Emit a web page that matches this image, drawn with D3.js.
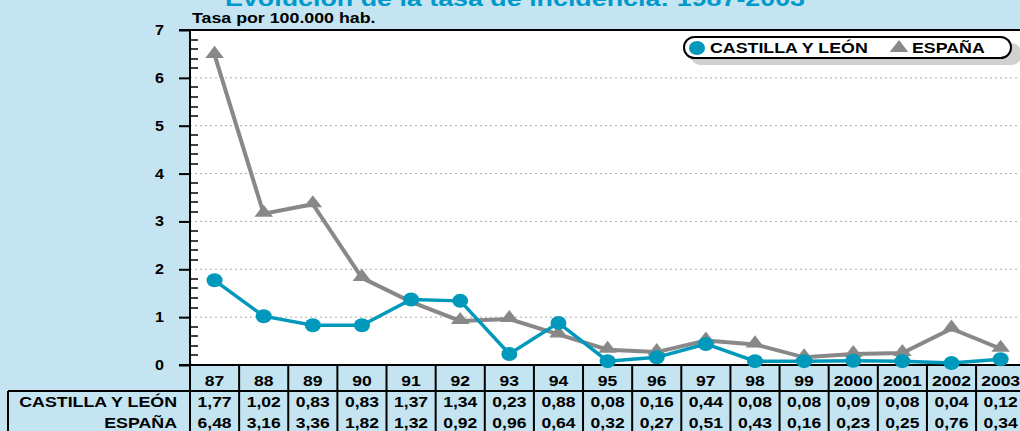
<!DOCTYPE html>
<html><head><meta charset="utf-8">
<script src="https://cdn.jsdelivr.net/npm/d3@7"></script>
<style>
html,body{margin:0;padding:0;background:#c3e4f0;overflow:hidden;}
svg{display:block;font-family:"Liberation Sans",Arial,sans-serif;font-weight:bold;}
</style></head><body>
<svg id="c" width="1020" height="431"></svg>
<script>
const years = ["87","88","89","90","91","92","93","94","95","96","97","98","99","2000","2001","2002","2003"];
const cyl = [1.77,1.02,0.83,0.83,1.37,1.34,0.23,0.88,0.08,0.16,0.44,0.08,0.08,0.09,0.08,0.04,0.12];
const esp = [6.48,3.16,3.36,1.82,1.32,0.92,0.96,0.64,0.32,0.27,0.51,0.43,0.16,0.23,0.25,0.76,0.34];
const seriesNames = ["CASTILLA Y LEÓN","ESPAÑA"];
const yTicks = [0,1,2,3,4,5,6,7];
const title = "Evolución de la tasa de incidencia: 1987-2003";
const yLabel = "Tasa por 100.000 hab.";

(function(){
const BLUE = "#0099bb", GREY = "#888888";
const svg = d3.select("#c");
const L = 190, T = 30, B = 365, colW = 49.13;
const x = d3.scaleBand().domain(years).range([L, L + colW*years.length]);
const y = d3.scaleLinear().domain([0,7]).range([B, T]);
const fmt = v => v.toFixed(2).replace(".", ",");
function stretch(sel, k){
  sel.each(function(){
    const w = this.getComputedTextLength();
    d3.select(this).attr("textLength", w*k).attr("lengthAdjust","spacingAndGlyphs");
  });
}

// title
svg.append("text").attr("x", 515).attr("y", 6).attr("text-anchor","middle")
  .attr("font-size", 22).attr("fill", "#0099cc").text(title)
  .attr("textLength", 580).attr("lengthAdjust","spacingAndGlyphs");
stretch(svg.append("text").attr("x", 192).attr("y", 23).attr("font-size", 14).attr("fill","#000").text(yLabel), 1.27);

// plot area
svg.append("rect").attr("x", L).attr("y", T).attr("width", 1020-L+10).attr("height", B-T).attr("fill","#fff");

// gridlines
svg.append("g").selectAll("line").data(yTicks.filter(d=>d>0&&d<7)).join("line")
  .attr("x1", L).attr("x2", 1020).attr("y1", d=>y(d)).attr("y2", d=>y(d))
  .attr("stroke","#aaa").attr("stroke-width",1).attr("stroke-dasharray","2,3");

// minor ticks
const minor = d3.range(0, 7.001, 0.2).filter(v => Math.abs(v - Math.round(v)) > 1e-6);
svg.append("g").selectAll("line").data(minor).join("line")
  .attr("x1", L).attr("x2", L+8).attr("y1", d=>Math.round(y(d))).attr("y2", d=>Math.round(y(d)))
  .attr("stroke","#000").attr("stroke-width",1.5);

// y axis
const yAxis = d3.axisLeft(y).tickValues(yTicks).tickSize(11).tickPadding(15).tickFormat(d3.format("d"));
const ga = svg.append("g").attr("transform", `translate(${L},0)`).call(yAxis);
ga.select(".domain").remove();
ga.selectAll(".tick line").attr("stroke","#000").attr("stroke-width",2);
ga.selectAll(".tick text").attr("font-size",14).attr("font-weight","bold").attr("fill","#000")
  .attr("font-family","Liberation Sans, Arial, sans-serif");
stretch(ga.selectAll(".tick text"), 1.15);

// frame
svg.append("line").attr("x1",L).attr("x2",L).attr("y1",T-1).attr("y2",431).attr("stroke","#000").attr("stroke-width",2);
svg.append("line").attr("x1",L-11).attr("x2",1020).attr("y1",T).attr("y2",T).attr("stroke","#000").attr("stroke-width",2);
svg.append("line").attr("x1",L-11).attr("x2",1020).attr("y1",B).attr("y2",B).attr("stroke","#000").attr("stroke-width",2);

// lines
const cx = d => x(d) + x.bandwidth()/2;
const lineGen = arr => d3.line().x((d,i)=>cx(years[i])).y(d=>y(d))(arr);
svg.append("path").attr("d", lineGen(esp)).attr("fill","none").attr("stroke",GREY).attr("stroke-width",4);
const tri = d3.symbol().type(d3.symbolTriangle).size(150);
svg.append("g").selectAll("path").data(esp).join("path")
  .attr("d", tri).attr("transform",(d,i)=>`translate(${cx(years[i])},${y(d)-1}) scale(1,0.75)`).attr("fill",GREY);
svg.append("path").attr("d", lineGen(cyl)).attr("fill","none").attr("stroke",BLUE).attr("stroke-width",3.5);
svg.append("g").selectAll("ellipse").data(cyl).join("ellipse")
  .attr("cx",(d,i)=>cx(years[i])).attr("cy",d=>y(d)).attr("rx",8).attr("ry",7).attr("fill",BLUE);

// legend
const lg = svg.append("g");
lg.append("rect").attr("x",690).attr("y",43).attr("width",332).attr("height",22).attr("rx",11).attr("fill","#d0d0d0");
lg.append("rect").attr("x",684).attr("y",37).attr("width",327).attr("height",21).attr("rx",10.5).attr("fill","#fff").attr("stroke","#000").attr("stroke-width",2);
lg.append("ellipse").attr("cx",697).attr("cy",48).attr("rx",8).attr("ry",7).attr("fill",BLUE);
stretch(lg.append("text").attr("x",710).attr("y",53).attr("font-size",14).text(seriesNames[0]), 1.27);
lg.append("path").attr("d",tri).attr("transform","translate(899,48) scale(1,0.75)").attr("fill",GREY);
stretch(lg.append("text").attr("x",912).attr("y",53).attr("font-size",14).text(seriesNames[1]), 1.27);

// table
const tg = svg.append("g");
const rowTop = 391;
years.forEach((yr,i)=>{
  tg.append("line").attr("x1",x(yr)+x.bandwidth()).attr("x2",x(yr)+x.bandwidth()).attr("y1",B).attr("y2",431)
    .attr("stroke","#000").attr("stroke-width",2);
});
tg.append("line").attr("x1",8).attr("x2",1020).attr("y1",rowTop).attr("y2",rowTop).attr("stroke","#000").attr("stroke-width",2);
tg.append("line").attr("x1",8).attr("x2",8).attr("y1",rowTop).attr("y2",431).attr("stroke","#000").attr("stroke-width",2);
stretch(tg.selectAll("text.h").data(years).join("text").attr("class","h")
  .attr("x",d=>cx(d)).attr("y",386).attr("text-anchor","middle").attr("font-size",14).text(d=>d), 1.25);
[cyl, esp].forEach((arr,r)=>{
  const yy = 407 + r*21;
  stretch(tg.append("text").attr("x",177).attr("y",yy).attr("text-anchor","end").attr("font-size",14).text(seriesNames[r]), 1.27);
  stretch(tg.selectAll("text.r"+r).data(arr).join("text").attr("class","r"+r)
    .attr("x",(d,i)=>cx(years[i])).attr("y",yy).attr("text-anchor","middle").attr("font-size",14).text(d=>fmt(d)), 1.25);
});
})();
</script></body></html>
